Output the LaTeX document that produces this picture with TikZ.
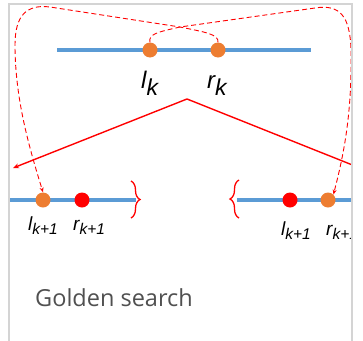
\documentclass[tikz,border=0pt]{standalone}
\usepackage{fontspec}
\setmainfont{Liberation Sans}
\newfontfamily\captionfont{Open Sans}
\usetikzlibrary{arrows.meta,decorations.pathreplacing}
\definecolor{lineblue}{HTML}{5B9BD5}
\definecolor{dotorange}{HTML}{ED7D31}
\definecolor{framegray}{HTML}{D4D4D4}
\definecolor{textgray}{HTML}{505050}
\begin{document}
\begin{tikzpicture}[x=1pt,y=-1pt,
  axis/.style={lineblue,line width=3.5pt},
  odot/.style={circle,fill=dotorange,minimum size=15pt,inner sep=0pt},
  rdot/.style={circle,fill=red,minimum size=15pt,inner sep=0pt},
  jump/.style={red,line width=0.9pt,dash pattern=on 5pt off 3pt,-{Stealth[length=5pt,width=4pt]}},
  split/.style={red,line width=1.4pt},
  grp/.style={red,line width=1.3pt,decorate,decoration={brace,amplitude=9pt,aspect=0.5}},
  biglbl/.style={anchor=base west,inner sep=0pt,font=\fontsize{24}{24}\selectfont\itshape},
  smalllbl/.style={anchor=base west,inner sep=0pt,font=\fontsize{19}{19}\selectfont\itshape},
]
\useasboundingbox (0,0) rectangle (363,340);

\begin{scope}
\clip (0,0) rectangle (352,340);

% current interval
\draw[axis] (57,50) -- (311,50);
\node[odot] (lk) at (150,50) {};
\node[odot] (rk) at (218,50) {};
\node[biglbl] at (141,88) {l\raisebox{-7pt}{\fontsize{23}{23}\selectfont k}};
\node[biglbl] at (207,88) {r\raisebox{-7pt}{\fontsize{23}{23}\selectfont k}};

% left branch: keep [a, r_k]
\draw[axis] (9,200) -- (136,200);
\node[odot] (lkl) at (43,200) {};
\node[rdot] (rkl) at (82,200) {};
\draw[grp] (131,181) -- (131,218);
\node[smalllbl] at (28,230) {l\raisebox{-4pt}{\fontsize{15.5}{15.5}\selectfont k+1}};
\node[smalllbl] at (73,230) {r\raisebox{-4pt}{\fontsize{15.5}{15.5}\selectfont k+1}};

% right branch: keep [l_k, b]
\draw[axis] (237,200) -- (352,200);
\node[rdot] (lkr) at (290,200) {};
\node[odot] (rkr) at (328,200) {};
\draw[grp] (239,218) -- (239,180);
\node[smalllbl] at (281,235) {l\raisebox{-4pt}{\fontsize{15.5}{15.5}\selectfont k+1}};
\node[smalllbl] at (326,235) {r\raisebox{-4pt}{\fontsize{15.5}{15.5}\selectfont k+1}};

% the two possible reductions
\coordinate (apex) at (187,99);
\coordinate (leftend) at (13,168);
\coordinate (rightend) at (370,172);
\draw[split,-{Stealth[length=6pt,width=5pt]}] (apex) -- (leftend);
\draw[split] (apex) -- (rightend);

% where the old points go
\draw[jump] (lk.north) .. controls (148,34) and (158,32) .. (180,27)
  -- (315,8) .. controls (340,4) and (350,16) .. (351,50)
  .. controls (352,110) and (345,150) .. (rkr.north east);
\draw[jump] (rk.north) .. controls (219,34) and (204,32) .. (180,27)
  -- (50,7) .. controls (26,4) and (15,16) .. (15,45)
  .. controls (15,100) and (30,150) .. (lkl.north);
\end{scope}

% card frame
\draw[framegray,line width=1.5pt] (9,341) -- (9,4) -- (352,4) -- (352,341);

\node[anchor=base west,inner sep=0pt,text=textgray,font=\captionfont\fontsize{23.5}{23.5}\selectfont] at (35,306) {Golden search};
\end{tikzpicture}
\end{document}
